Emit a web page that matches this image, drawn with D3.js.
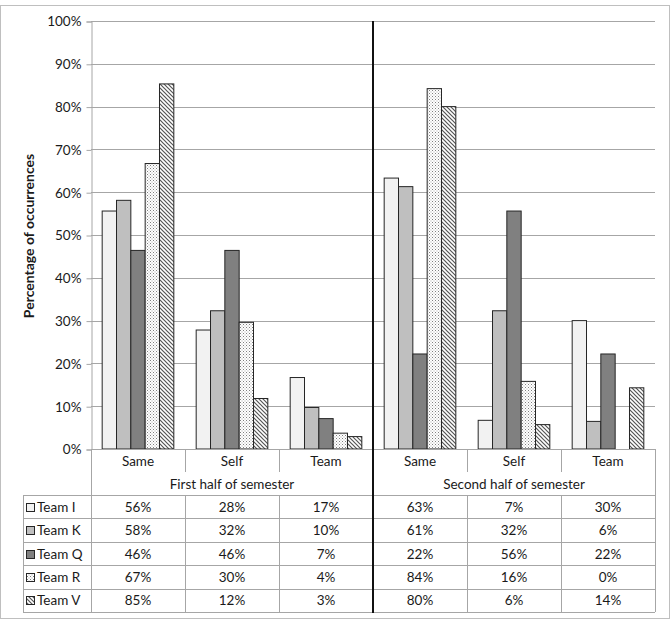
<html>
<head>
<meta charset="utf-8">
<script src="https://d3js.org/d3.v7.min.js"></script>
<style>
  body { margin: 0; background: #fff; }
  svg text { font-family: Lato, "Open Sans", sans-serif; fill: #1a1a1a; }
</style>
</head>
<body>
<svg id="chart" width="672" height="622"></svg>
<script>
// data
var halves = ["First half of semester", "Second half of semester"];
var categories = ["Same", "Self", "Team"];
var teams = ["Team I", "Team K", "Team Q", "Team R", "Team V"];
// each list: first half Same, Self, Team, then second half Same, Self, Team (percent)
var teamI = [55.6, 27.8, 16.7, 63.3, 6.7, 30.0];
var teamK = [58.1, 32.3, 9.7, 61.3, 32.3, 6.45];
var teamQ = [46.4, 46.4, 7.1, 22.2, 55.6, 22.2];
var teamR = [66.7, 29.6, 3.7, 84.2, 15.8, 0];
var teamV = [85.3, 11.8, 2.9, 80.0, 5.7, 14.3];
var yTicks = [0, 10, 20, 30, 40, 50, 60, 70, 80, 90, 100];

var series = [teamI, teamK, teamQ, teamR, teamV];
var svg = d3.select("#chart");

var plotLeft = 91, plotRight = 655, plotTop = 21, base = 449, tableBottom = 612, legendLeft = 23;
var fs = "13.5px";

// one key per column
var cols = [];
halves.forEach(function(h, hi) {
  categories.forEach(function(c, ci) { cols.push({half: hi, cat: c, key: hi + "|" + c, idx: hi * 3 + ci}); });
});

var x0 = d3.scaleBand().domain(cols.map(function(d) { return d.key; })).range([plotLeft, plotRight]);
var x1 = d3.scaleBand().domain(teams).range([0, x0.bandwidth()]).paddingInner(0).paddingOuter(0.78);
var y = d3.scaleLinear().domain([0, 100]).range([base, plotTop]);

// patterns
var defs = svg.append("defs");
var dots = defs.append("pattern").attr("id", "dots").attr("patternUnits", "userSpaceOnUse")
  .attr("width", 3).attr("height", 3);
dots.append("rect").attr("width", 3).attr("height", 3).attr("fill", "#fff");
dots.append("rect").attr("x", 0).attr("y", 0).attr("width", 1).attr("height", 1).attr("fill", "#808080");
dots.append("rect").attr("x", 1.5).attr("y", 1.5).attr("width", 1).attr("height", 1).attr("fill", "#a8a8a8");

var hatch = defs.append("pattern").attr("id", "hatch").attr("patternUnits", "userSpaceOnUse")
  .attr("width", 4).attr("height", 4);
hatch.append("rect").attr("width", 4).attr("height", 4).attr("fill", "#fff");
hatch.append("path").attr("d", "M0,0 L4,4 M-1,3 L1,5 M3,-1 L5,1")
  .attr("stroke", "#555").attr("stroke-width", 1.2);

var fills = ["#f2f2f2", "#bfbfbf", "#808080", "url(#dots)", "url(#hatch)"];
var color = d3.scaleOrdinal().domain(teams).range(fills);

// outer frame
svg.append("rect").attr("x", 0.5).attr("y", 5.5).attr("width", 669).attr("height", 613)
  .attr("fill", "none").attr("stroke", "#bfbfbf");

// gridlines
svg.append("g").selectAll("line").data(yTicks.filter(function(t) { return t > 0; })).enter()
  .append("line")
  .attr("x1", plotLeft).attr("x2", plotRight)
  .attr("y1", function(d) { return Math.round(y(d)) + 0.5; })
  .attr("y2", function(d) { return Math.round(y(d)) + 0.5; })
  .attr("stroke", "#a6a6a6");

// y axis
var yAxis = svg.append("g").attr("transform", "translate(" + (plotLeft + 0.5) + ",0.5)")
  .call(d3.axisLeft(y).tickValues(yTicks).tickSize(5).tickPadding(5)
    .tickFormat(function(d) { return d + "%"; }));
yAxis.select(".domain").attr("stroke", "#a6a6a6");
yAxis.selectAll(".tick line").attr("stroke", "#a6a6a6");
yAxis.selectAll(".tick text").style("font-size", fs).style("fill", "#1a1a1a")
  .style("font-family", "Lato, sans-serif");

svg.append("text")
  .attr("transform", "translate(34," + ((plotTop + base) / 2 + 1) + ") rotate(-90)")
  .attr("text-anchor", "middle")
  .style("font-size", "14px").style("font-weight", "bold")
  .text("Percentage of occurrences");

// bars
var barData = [];
cols.forEach(function(c) {
  teams.forEach(function(t, ti) { barData.push({key: c.key, team: t, v: series[ti][c.idx]}); });
});
svg.append("g").selectAll("rect").data(barData).enter().append("rect")
  .attr("x", function(d) { return x0(d.key) + x1(d.team); })
  .attr("y", function(d) { return y(d.v); })
  .attr("width", x1.bandwidth())
  .attr("height", function(d) { return base - y(d.v); })
  .attr("fill", function(d) { return color(d.team); })
  .attr("stroke", "#262626").attr("stroke-width", 1)
  .attr("display", function(d) { return d.v > 0 ? null : "none"; });

// table
var rowY = d3.scaleBand().domain(teams).range([495, tableBottom]);
var catRowBottom = 472;
var g = svg.append("g").attr("stroke", "#a6a6a6").attr("shape-rendering", "crispEdges");

g.append("line").attr("x1", plotLeft).attr("x2", plotRight).attr("y1", base + 0.5).attr("y2", base + 0.5);
teams.forEach(function(t) {
  g.append("line").attr("x1", legendLeft).attr("x2", plotRight)
    .attr("y1", rowY(t) + 0.5).attr("y2", rowY(t) + 0.5);
});
g.append("line").attr("x1", legendLeft).attr("x2", plotRight)
  .attr("y1", tableBottom + 0.5).attr("y2", tableBottom + 0.5);
g.append("line").attr("x1", plotLeft + 0.5).attr("x2", plotLeft + 0.5).attr("y1", base).attr("y2", tableBottom);
g.append("line").attr("x1", plotRight + 0.5).attr("x2", plotRight + 0.5).attr("y1", base).attr("y2", tableBottom);
g.append("line").attr("x1", legendLeft + 0.5).attr("x2", legendLeft + 0.5).attr("y1", rowY(teams[0])).attr("y2", tableBottom);
cols.forEach(function(c, i) {
  if (i === 0 || i === 3) return;
  var xx = Math.round(x0(c.key)) + 0.5;
  g.append("line").attr("x1", xx).attr("x2", xx).attr("y1", base).attr("y2", catRowBottom);
  g.append("line").attr("x1", xx).attr("x2", xx).attr("y1", rowY(teams[0])).attr("y2", tableBottom);
});

// halves divider
var divX = Math.round(x0(cols[3].key));
svg.append("line").attr("x1", divX).attr("x2", divX).attr("y1", plotTop).attr("y2", tableBottom + 1)
  .attr("stroke", "#111").attr("stroke-width", 2);

// category labels
svg.append("g").selectAll("text").data(cols).enter().append("text")
  .attr("x", function(d) { return x0(d.key) + x0.bandwidth() / 2; })
  .attr("y", 466)
  .attr("text-anchor", "middle").style("font-size", fs)
  .text(function(d) { return d.cat; });

// half labels
svg.append("g").selectAll("text").data(halves).enter().append("text")
  .attr("x", function(d, i) { return x0(cols[i * 3].key) + x0.bandwidth() * 1.5; })
  .attr("y", 489)
  .attr("text-anchor", "middle").style("font-size", fs)
  .text(function(d) { return d; });

// legend column and values
teams.forEach(function(t, ti) {
  var cy = rowY(t) + rowY.bandwidth() / 2;
  svg.append("rect").attr("x", 26.5).attr("y", Math.round(cy - 4) + 0.5).attr("width", 8).attr("height", 8)
    .attr("fill", color(t)).attr("stroke", "#262626");
  svg.append("text").attr("x", 37).attr("y", cy + 5).style("font-size", fs).text(t);
  cols.forEach(function(c) {
    svg.append("text")
      .attr("x", x0(c.key) + x0.bandwidth() / 2)
      .attr("y", cy + 5)
      .attr("text-anchor", "middle").style("font-size", fs)
      .text(Math.round(series[ti][c.idx]) + "%");
  });
});
</script>
</body>
</html>
